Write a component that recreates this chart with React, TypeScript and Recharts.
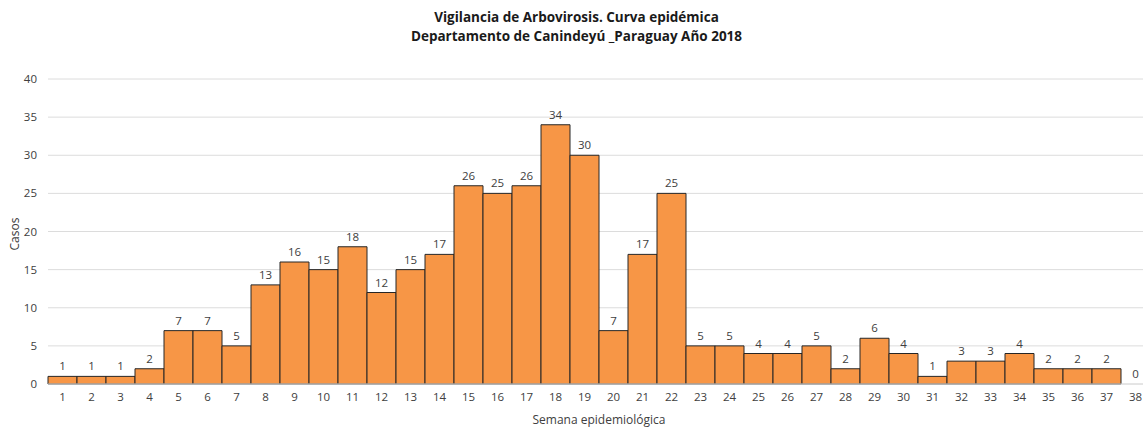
import {
  Bar,
  CartesianGrid,
  ComposedChart,
  LabelList,
  Line,
  XAxis,
  YAxis,
} from "recharts";

const weeks = Array.from({ length: 38 }, (_, i) => String(i + 1));
const cases = [
  1, 1, 1, 2, 7, 7, 5, 13, 16, 15, 18, 12, 15, 17, 26, 25, 26, 34, 30, 7, 17,
  25, 5, 5, 4, 4, 5, 2, 6, 4, 1, 3, 3, 4, 2, 2, 2, 0,
];
const yTicks = [0, 5, 10, 15, 20, 25, 30, 35, 40];

const titleLines = [
  "Vigilancia de Arbovirosis. Curva epidémica",
  "Departamento de Canindeyú _Paraguay Año 2018",
];

const font = "'Open Sans', 'Noto Sans', sans-serif";
const textColor = "#404040";

// labels hang off an invisible line so the 0 week still gets one
const TopLabel = (props: any) => {
  const { x, y, value } = props;
  return (
    <text
      x={Number(x)}
      y={Number(y) - 6}
      textAnchor="middle"
      fill={textColor}
      fontSize={11.5}
      fontFamily={font}
    >
      {value}
    </text>
  );
};

export default function App() {
  const data = weeks.map((w, i) => ({ week: w, casos: cases[i] }));

  return (
    <div
      style={{
        position: "absolute",
        left: 0,
        top: 0,
        width: 1143,
        height: 428,
        overflow: "hidden",
        background: "#fff",
        fontFamily: font,
      }}
    >
      <div
        style={{
          position: "absolute",
          top: 8,
          left: 5,
          width: 1143,
          textAlign: "center",
          fontWeight: 700,
          fontSize: 13.5,
          lineHeight: "19px",
          color: "#1a1a1a",
        }}
      >
        {titleLines.map((t) => (
          <div key={t}>{t}</div>
        ))}
      </div>
      <div
        style={{
          position: "absolute",
          left: 14,
          top: 234,
          transform: "translate(-50%, -50%) rotate(-90deg)",
          fontSize: 12,
          color: textColor,
          whiteSpace: "nowrap",
        }}
      >
        Casos
      </div>
      <ComposedChart
        width={1150}
        height={428}
        data={data}
        barCategoryGap={0}
        margin={{ top: 79, right: 0, left: 0, bottom: 0 }}
      >
        <CartesianGrid vertical={false} stroke="#dcdcdc" />
        <XAxis
          dataKey="week"
          height={44}
          axisLine={{ stroke: "#dcdcdc" }}
          tickLine={false}
          tickSize={0}
          tickMargin={9}
          interval={0}
          tick={{ fill: textColor, fontSize: 11.5, fontFamily: font }}
          label={{
            value: "Semana epidemiológica",
            position: "insideBottom",
            offset: 4,
            fill: textColor,
            fontSize: 12,
            fontFamily: font,
          }}
        />
        <YAxis
          width={48}
          domain={[0, 40]}
          ticks={yTicks}
          axisLine={false}
          tickLine={false}
          tickSize={0}
          tickMargin={11}
          tick={{ fill: textColor, fontSize: 11.5, fontFamily: font }}
        />
        <Bar
          dataKey="casos"
          fill="#F79646"
          stroke="#262626"
          strokeWidth={1}
          isAnimationActive={false}
        />
        <Line
          dataKey="casos"
          stroke="none"
          dot={false}
          activeDot={false}
          legendType="none"
          isAnimationActive={false}
        >
          <LabelList dataKey="casos" content={TopLabel} />
        </Line>
      </ComposedChart>
    </div>
  );
}
